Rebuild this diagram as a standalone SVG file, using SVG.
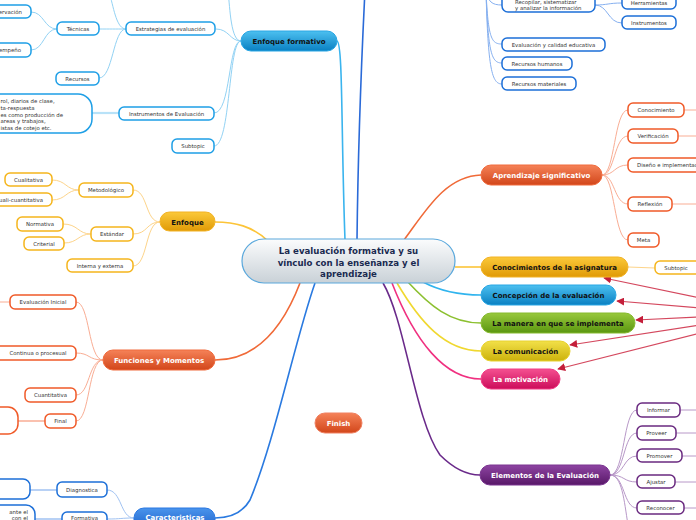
<svg xmlns="http://www.w3.org/2000/svg" width="696" height="520" viewBox="0 0 696 520">
<defs>
<linearGradient id="gBlue" x1="0" y1="0" x2="0" y2="1"><stop offset="0" stop-color="#4cc0f0"/><stop offset="1" stop-color="#0a80c2"/></linearGradient>
<linearGradient id="gYel" x1="0" y1="0" x2="0" y2="1"><stop offset="0" stop-color="#fbc93a"/><stop offset="1" stop-color="#e09a06"/></linearGradient>
<linearGradient id="gOra" x1="0" y1="0" x2="0" y2="1"><stop offset="0" stop-color="#f58258"/><stop offset="1" stop-color="#d2461a"/></linearGradient>
<linearGradient id="gDBlue" x1="0" y1="0" x2="0" y2="1"><stop offset="0" stop-color="#4a94ec"/><stop offset="1" stop-color="#185cc6"/></linearGradient>
<linearGradient id="gGreen" x1="0" y1="0" x2="0" y2="1"><stop offset="0" stop-color="#98c83c"/><stop offset="1" stop-color="#5a9610"/></linearGradient>
<linearGradient id="gLem" x1="0" y1="0" x2="0" y2="1"><stop offset="0" stop-color="#f2e048"/><stop offset="1" stop-color="#ccb20c"/></linearGradient>
<linearGradient id="gPink" x1="0" y1="0" x2="0" y2="1"><stop offset="0" stop-color="#f45090"/><stop offset="1" stop-color="#cc0c5a"/></linearGradient>
<linearGradient id="gPur" x1="0" y1="0" x2="0" y2="1"><stop offset="0" stop-color="#8e44a2"/><stop offset="1" stop-color="#581868"/></linearGradient>
<linearGradient id="gCen" x1="0" y1="0" x2="0" y2="1"><stop offset="0" stop-color="#fbfcfd"/><stop offset="1" stop-color="#c9d1d7"/></linearGradient>
<marker id="arr" viewBox="0 0 10 10" refX="9" refY="5" markerWidth="8" markerHeight="8" markerUnits="userSpaceOnUse" orient="auto"><path d="M0,0 L10,5 L0,10 z" fill="#c41e3a"/></marker>
</defs>
<style>
text{font-family:"DejaVu Sans",Verdana,sans-serif}
.s{font-size:5.4px;fill:#333;text-anchor:middle}
.b{font-size:7px;font-weight:bold;fill:#111;text-anchor:middle}
.w{fill:#fff}
.n{fill:#fff;stroke-width:1.5}
.lb{stroke:#1e9fe6}.db{stroke:#1c6fd8}.yl{stroke:#f5b51c}.or{stroke:#f05a28}.pu{stroke:#6a2a80}
.c{fill:none;stroke-width:1}
.clb{stroke:#92d2f4}.cdb{stroke:#86b0f0}.cyl{stroke:#fdd48a}.cor{stroke:#f9ad94}.cpu{stroke:#b898c8}.cb2{stroke:#a0c2f2}
.m{fill:none;stroke-width:1.6}
.rel{fill:none;stroke:#d4485e;stroke-width:1.2;marker-end:url(#arr)}
</style>
<rect width="696" height="520" fill="#fff"/>
<g id="connectors">
<path class="m" stroke="#3ab4ee" d="M337,41 C343,43 341,130 345,240"/>
<path class="m" stroke="#2a6ad8" d="M357,240 C358,150 362,50 365,-10"/>
<path class="c clb" d="M241,41 C230,41 229,29 216,29"/>
<path class="c clb" d="M241,41 C228,41 231,113 214,113"/>
<path class="c clb" d="M241,41 C228,41 231,146 214,146"/>
<path class="c clb" d="M241,41 C231,41 230,10 228,-10"/>
<path class="c clb" d="M126,29 C115,29 110,29 99,29"/>
<path class="c clb" d="M126,29 C113,29 113,78 99,78"/>
<path class="c clb" d="M126,29 C117,29 114,10 110,-5"/>
<path class="c clb" d="M57,29 C44,29 44,12 31,12"/>
<path class="c clb" d="M57,29 C44,29 44,50 31,50"/>
<path fill="none" stroke="#b8e2f8" stroke-width="2.2" d="M92,113 L119,113"/>
<path class="c cdb" d="M486,-10 C488,2 492,5 502,5"/>
<path class="c cdb" d="M486,-10 C488,40 492,44 502,44"/>
<path class="c cdb" d="M486,-10 C488,55 492,63 502,63"/>
<path class="c cdb" d="M486,-10 C488,70 492,84 502,84"/>
<path class="c cdb" d="M595,5 C608,5 608,3 622,3"/>
<path class="c cdb" d="M595,5 C608,5 608,23 622,23"/>
<path class="m" stroke="#fcc438" d="M268,241 C252,226 235,222 215,222"/>
<path class="c cyl" d="M160,222 C145,222 148,190 133,190"/>
<path class="c cyl" d="M160,222 C146,222 148,234 133,234"/>
<path class="c cyl" d="M160,222 C145,222 148,266 133,266"/>
<path class="c cyl" d="M79,190 C66,190 66,180 52,180"/>
<path class="c cyl" d="M79,190 C66,190 66,200 52,200"/>
<path class="c cyl" d="M91,234 C78,234 78,224 63,224"/>
<path class="c cyl" d="M91,234 C78,234 78,243 64,243"/>
<path class="m" stroke="#f06a38" d="M300,283 C282,330 255,360 215,360"/>
<path class="c cor" d="M103,360 C88,360 90,302 76,302"/>
<path class="c cor" d="M103,360 C88,360 90,353 76,353"/>
<path class="c cor" d="M103,360 C88,360 90,395 76,395"/>
<path class="c cor" d="M103,360 C88,360 90,421 76,421"/>
<path class="c cor" d="M10,302 L-5,302"/>
<path fill="none" stroke="#f9ad94" stroke-width="1.5" d="M45,421 L18,421"/>
<path class="m" stroke="#2a7ae0" d="M315,283 C295,340 275,440 250,500 C243,512 230,518 215,518"/>
<path class="c cb2" d="M134,518 C120,518 122,490 107,490"/>
<path class="c cb2" d="M134,518 C120,518 122,519 107,519"/>
<path fill="none" stroke="#a0c2f2" stroke-width="1.5" d="M57,490 L30,490"/>
<path fill="none" stroke="#a0c2f2" stroke-width="1.5" d="M62,519 L35,519"/>
<path class="m" stroke="#f06a38" d="M404,240 C425,212 445,176 481,175"/>
<path class="c cor" d="M602,175 C615,175 614,110 628,110"/>
<path class="c cor" d="M602,175 C615,175 614,136 628,136"/>
<path class="c cor" d="M602,175 C615,175 614,165 628,165"/>
<path class="c cor" d="M602,175 C615,175 614,204 628,204"/>
<path class="c cor" d="M602,175 C615,175 614,240 628,240"/>
<path class="c cor" d="M684,110 L700,110"/>
<path class="c cor" d="M678,136 L700,136"/>
<path class="c cor" d="M672,204 L700,204"/>
<path class="m" stroke="#fcc438" d="M455,267 L481,267"/>
<path class="c cyl" d="M628,267 L655,268"/>
<path class="m" stroke="#30b4ee" d="M423,282 C440,291 458,295 481,295"/>
<path class="m" stroke="#8cc030" d="M407,281 C430,306 450,323 481,323"/>
<path class="m" stroke="#f0d830" d="M397,283 C420,322 445,351 481,351"/>
<path class="m" stroke="#f03080" d="M392,283 C415,342 445,379 481,379"/>
<path class="m" stroke="#6a2a8a" d="M383,283 C405,320 415,420 440,455 C455,470 468,475 480,475"/>
<path class="c cpu" d="M610,475 C625,475 623,410 637,410"/>
<path class="c cpu" d="M610,475 C625,475 623,433 637,433"/>
<path class="c cpu" d="M610,475 C625,475 623,456 637,456"/>
<path class="c cpu" d="M610,475 C625,475 623,482 637,482"/>
<path class="c cpu" d="M610,475 C625,475 623,508 637,508"/>
<path class="c cpu" d="M610,475 C622,475 624,500 628,525"/>
<path class="c cpu" d="M680,410 L700,410"/>
<path class="c cpu" d="M676,433 L700,433"/>
<path class="c cpu" d="M682,456 L700,456"/>
<path class="c cpu" d="M675,482 L700,482"/>
<path class="c cpu" d="M684,508 L700,508"/>
<path class="rel" d="M700,298 L604,278"/>
<path class="rel" d="M700,308 L617,301"/>
<path class="rel" d="M700,317 L636,320"/>
<path class="rel" d="M700,325 L570,345"/>
<path class="rel" d="M700,333 L558,369"/>
</g>
<g id="central"><rect x="242" y="239" width="213" height="44" rx="22" fill="url(#gCen)" stroke="#5aa8dc" stroke-width="1.2"/>
<text x="348.5" y="254" font-size="8.6" font-weight="bold" fill="#1a2a50" text-anchor="middle">La evaluación formativa y su</text>
<text x="348.5" y="265.5" font-size="8.6" font-weight="bold" fill="#1a2a50" text-anchor="middle">vínculo con la enseñanza y el</text>
<text x="348.5" y="277" font-size="8.6" font-weight="bold" fill="#1a2a50" text-anchor="middle">aprendizaje</text></g>
<g id="enfoque-formativo"><rect x="241" y="31" width="96" height="20" rx="10" fill="url(#gBlue)" stroke="#28a6e4"/><text class="b" x="289" y="44">Enfoque formativo</text></g>
<g id="estrategias"><rect class="n lb" x="126" y="22" width="89" height="13" rx="5"/><text class="s" x="170.5" y="30.5">Estrategias de evaluación</text></g>
<g id="tecnicas"><rect class="n lb" x="57" y="22" width="42" height="13" rx="5"/><text class="s" x="78" y="30.5">Técnicas</text></g>
<g id="observacion"><rect class="n lb" x="-20" y="5" width="51" height="13" rx="5"/><text class="s" x="22" y="13.5" style="text-anchor:end">ervación</text></g>
<g id="desempeno"><rect class="n lb" x="-20" y="43" width="51" height="14" rx="5"/><text class="s" x="21" y="52" style="text-anchor:end">empeño</text></g>
<g id="recursos"><rect class="n lb" x="56" y="72" width="43" height="13" rx="5"/><text class="s" x="77.5" y="80.5">Recursos</text></g>
<g id="instrumentos-detalle"><rect class="n lb" x="-30" y="94" width="122" height="39" rx="14"/>
<text class="s" x="0.5" y="102.5" style="text-anchor:start">rol, diarios de clase,</text>
<text class="s" x="0.5" y="110" style="text-anchor:start">ta-respuesta</text>
<text class="s" x="0.5" y="116.5" style="text-anchor:start">es como producción de</text>
<text class="s" x="0.5" y="123" style="text-anchor:start">areas y trabajos,</text>
<text class="s" x="0.5" y="129.5" style="text-anchor:start">istas de cotejo etc.</text></g>
<g id="instrumentos-eval"><rect class="n lb" x="119" y="107" width="95" height="13" rx="5"/><text class="s" x="166.5" y="115.5">Instrumentos de Evaluación</text></g>
<g id="subtopic-ef"><rect class="n lb" x="172" y="139" width="42" height="14" rx="5"/><text class="s" x="193" y="148">Subtopic</text></g>
<g id="recopilar"><rect class="n db" x="502" y="-15" width="93" height="27" rx="6"/><text class="s" x="515" y="4" style="text-anchor:start">Recopilar, sistematizar</text><text class="s" x="515" y="9.8" style="text-anchor:start">y analizar la información</text></g>
<g id="herramientas"><rect class="n db" x="622" y="-10" width="54" height="19" rx="5"/><text class="s" x="649" y="5">Herramientas</text></g>
<g id="instrumentos"><rect class="n db" x="622" y="16" width="54" height="13" rx="5"/><text class="s" x="649" y="24.5">Instrumentos</text></g>
<g id="eval-calidad"><rect class="n db" x="502" y="38" width="103" height="13" rx="5"/><text class="s" x="553.5" y="46.5">Evaluación y calidad educativa</text></g>
<g id="rec-humanos"><rect class="n db" x="502" y="57" width="70" height="13" rx="5"/><text class="s" x="537" y="65.5">Recursos humanos</text></g>
<g id="rec-materiales"><rect class="n db" x="502" y="77" width="74" height="13" rx="5"/><text class="s" x="539" y="85.5">Recursos materiales</text></g>
<g id="enfoque"><rect x="160" y="212" width="55" height="19" rx="9.5" fill="url(#gYel)" stroke="#f2b224"/><text class="b" x="187.5" y="224.5">Enfoque</text></g>
<g id="metodologico"><rect class="n yl" x="79" y="183" width="54" height="14" rx="5"/><text class="s" x="106" y="192">Metodológico</text></g>
<g id="cualitativa"><rect class="n yl" x="5" y="173" width="47" height="13" rx="5"/><text class="s" x="28.5" y="181.5">Cualitativa</text></g>
<g id="cuali-cuant"><rect class="n yl" x="-20" y="193" width="72" height="13" rx="5"/><text class="s" x="43" y="201.5" style="text-anchor:end">uali-cuantitativa</text></g>
<g id="estandar"><rect class="n yl" x="91" y="227" width="42" height="14" rx="5"/><text class="s" x="112" y="236">Estándar</text></g>
<g id="normativa"><rect class="n yl" x="17" y="217" width="46" height="14" rx="5"/><text class="s" x="40" y="226">Normativa</text></g>
<g id="criterial"><rect class="n yl" x="24" y="237" width="40" height="13" rx="5"/><text class="s" x="44" y="245.5">Criterial</text></g>
<g id="interna"><rect class="n yl" x="67" y="259" width="66" height="13" rx="5"/><text class="s" x="100" y="267.5">Interna y externa</text></g>
<g id="funciones"><rect x="103" y="350" width="112" height="20" rx="10" fill="url(#gOra)" stroke="#f06a3c"/><text class="b w" x="159" y="362.5">Funciones y Momentos</text></g>
<g id="eval-inicial"><rect class="n or" x="10" y="295" width="66" height="14" rx="5"/><text class="s" x="43" y="304">Evaluación Inicial</text></g>
<g id="continua"><rect class="n or" x="-6" y="346" width="82" height="14" rx="5"/><text class="s" x="38" y="355">Continua o procesual</text></g>
<g id="cuantitativa"><rect class="n or" x="25" y="388" width="51" height="14" rx="5"/><text class="s" x="50.5" y="397">Cuantitativa</text></g>
<g id="final"><rect class="n or" x="45" y="414" width="31" height="14" rx="5"/><text class="s" x="60.5" y="423">Final</text></g>
<g id="final-detalle"><rect class="n or" x="-30" y="407" width="48" height="27" rx="10"/></g>
<g id="caracteristicas"><rect x="134" y="508" width="81" height="24" rx="10" fill="url(#gDBlue)" stroke="#2a78e2"/><text class="b w" x="175" y="519.5">Caracteristicas</text></g>
<g id="diagnostica"><rect class="n db" x="57" y="482" width="50" height="15" rx="5"/><text class="s" x="82" y="491.5">Diagnostica</text></g>
<g id="diag-detalle"><rect class="n db" x="-20" y="479" width="50" height="20" rx="7"/></g>
<g id="formativa"><rect class="n db" x="62" y="512" width="45" height="18" rx="5"/><text class="s" x="84.5" y="520">Formativa</text></g>
<g id="form-detalle"><rect class="n db" x="-20" y="505" width="55" height="30" rx="9"/><text class="s" x="28" y="513.5" style="text-anchor:end">ante el</text><text class="s" x="28" y="519.5" style="text-anchor:end">con el</text></g>
<g id="aprendizaje"><rect x="481" y="165" width="121" height="20" rx="10" fill="url(#gOra)" stroke="#f06a3c"/><text class="b w" x="541.5" y="177.5">Aprendizaje significativo</text></g>
<g id="conocimiento"><rect class="n or" x="628" y="103" width="56" height="14" rx="5"/><text class="s" x="656" y="112">Conocimiento</text></g>
<g id="verificacion"><rect class="n or" x="628" y="129" width="50" height="14" rx="5"/><text class="s" x="653" y="138">Verificación</text></g>
<g id="diseno"><rect class="n or" x="628" y="158" width="90" height="14" rx="5"/><text class="s" x="637" y="167" style="text-anchor:start">Diseño e implementación</text></g>
<g id="reflexion"><rect class="n or" x="628" y="197" width="44" height="14" rx="5"/><text class="s" x="650" y="206">Reflexión</text></g>
<g id="meta"><rect class="n or" x="628" y="233" width="31" height="14" rx="5"/><text class="s" x="643.5" y="242">Meta</text></g>
<g id="conocimientos"><rect x="481" y="257" width="147" height="20" rx="10" fill="url(#gYel)" stroke="#f2b224"/><text class="b" x="554.5" y="269.5">Conocimientos de la asignatura</text></g>
<g id="subtopic-ca"><rect class="n yl" x="655" y="261" width="55" height="13" rx="5"/><text class="s" x="676" y="269.5">Subtopic</text></g>
<g id="concepcion"><rect x="481" y="285" width="135" height="20" rx="10" fill="url(#gBlue)" stroke="#28a6e4"/><text class="b" x="548.5" y="297.5">Concepción de la evaluación</text></g>
<g id="manera"><rect x="481" y="313" width="154" height="20" rx="10" fill="url(#gGreen)" stroke="#86ba2e"/><text class="b" x="558" y="325.5">La manera en que se implementa</text></g>
<g id="comunicacion"><rect x="481" y="341" width="89" height="20" rx="10" fill="url(#gLem)" stroke="#e8d22e"/><text class="b" x="525.5" y="353.5">La comunicación</text></g>
<g id="motivacion"><rect x="481" y="369" width="79" height="20" rx="10" fill="url(#gPink)" stroke="#f03c84"/><text class="b w" x="520.5" y="381.5">La motivación</text></g>
<g id="elementos"><rect x="480" y="465" width="130" height="20" rx="10" fill="url(#gPur)" stroke="#7a3490"/><text class="b w" x="545" y="477.5">Elementos de la Evaluación</text></g>
<g id="informar"><rect class="n pu" x="637" y="403" width="43" height="14" rx="5"/><text class="s" x="658.5" y="412">Informar</text></g>
<g id="proveer"><rect class="n pu" x="637" y="426" width="39" height="14" rx="5"/><text class="s" x="656.5" y="435">Proveer</text></g>
<g id="promover"><rect class="n pu" x="637" y="449" width="45" height="13" rx="5"/><text class="s" x="659.5" y="457.5">Promover</text></g>
<g id="ajustar"><rect class="n pu" x="637" y="475" width="38" height="13" rx="5"/><text class="s" x="656" y="483.5">Ajustar</text></g>
<g id="reconocer"><rect class="n pu" x="637" y="501" width="47" height="13" rx="5"/><text class="s" x="660.5" y="509.5">Reconocer</text></g>
<g id="finish"><rect x="315" y="413" width="47" height="20" rx="10" fill="url(#gOra)" stroke="#f08060"/><text class="b w" x="338.5" y="425.5">Finish</text></g>
</svg>
